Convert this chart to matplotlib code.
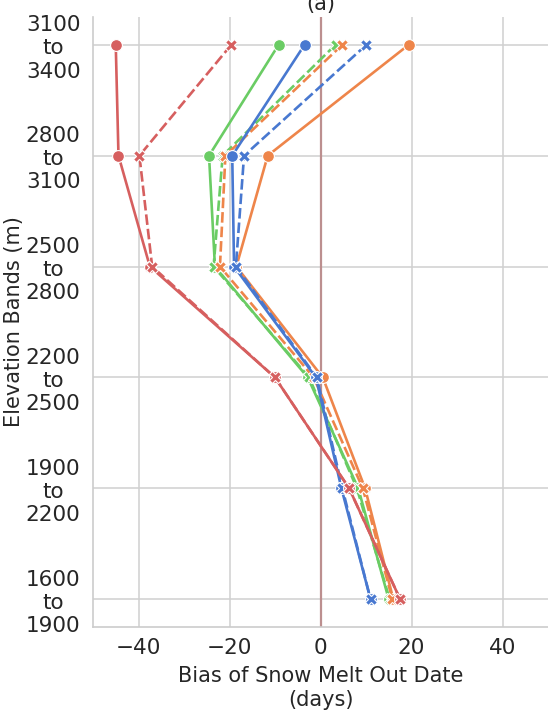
import matplotlib.pyplot as plt

bands = ["3100\nto\n3400", "2800\nto\n3100", "2500\nto\n2800",
         "2200\nto\n2500", "1900\nto\n2200", "1600\nto\n1900"]
x_ticks = [-40, -20, 0, 20, 40]

# bias (days) per band, top band first; solid = o markers, dashed = X markers
green_solid = [-9.2, -24.5, -23.2, -2.8, 8.3, 15.0]
green_dashed = [3.3, -21.5, -23.5, -2.5, 8.0, 15.2]
orange_solid = [19.4, -11.6, -18.5, 0.5, 9.8, 16.0]
orange_dashed = [4.8, -20.9, -22.1, -1.5, 9.3, 15.8]
blue_solid = [-3.5, -19.4, -19.0, -1.0, 4.6, 11.0]
blue_dashed = [10.1, -16.8, -18.6, -0.8, 4.8, 11.0]
red_solid = [-45.0, -44.4, -37.5, -10.0, 6.3, 17.5]
red_dashed = [-19.6, -39.8, -37.0, -10.0, 6.3, 17.5]

series = [
    (green_solid, "#6acc64", "-", "o"),
    (green_dashed, "#6acc64", "--", "X"),
    (orange_solid, "#ee854a", "-", "o"),
    (orange_dashed, "#ee854a", "--", "X"),
    (blue_solid, "#4878d0", "-", "o"),
    (blue_dashed, "#4878d0", "--", "X"),
    (red_solid, "#d65f5f", "-", "o"),
    (red_dashed, "#d65f5f", "--", "X"),
]

fig = plt.figure(figsize=(5.48, 7.12), dpi=100)
ax = fig.add_axes([93 / 548, 85 / 712, 455 / 548, 610 / 712])

for vals, col, ls, mk in series:
    line, = ax.plot(vals, bands, color=col, linestyle=ls, marker=mk,
                    linewidth=1.9, markersize=8.5, markeredgecolor="white",
                    markeredgewidth=0.8)
    if ls == "--":
        line.set_dashes((4, 1.5))

ax.axvline(0, color="#bc8f8f", linewidth=1.6, zorder=1)

ax.set_xlim(-50, 50)
ax.set_xticks(x_ticks)
ax.set_xticklabels(["\u2212" + str(-t) if t < 0 else str(t) for t in x_ticks])
ax.invert_yaxis()
ax.grid(True, color="#d0d0d0", linewidth=1.1, zorder=0)
ax.set_axisbelow(True)
for side in ["top", "right"]:
    ax.spines[side].set_visible(False)
for side in ["left", "bottom"]:
    ax.spines[side].set_color("#cccccc")
    ax.spines[side].set_linewidth(1.2)
ax.tick_params(axis="both", length=0, labelsize=15.5, colors="#262626")
ax.tick_params(axis="y", pad=9)
ax.tick_params(axis="x", pad=8)
for lab in ax.get_yticklabels():
    lab.set_multialignment("center")

ax.set_xlabel("Bias of Snow Melt Out Date\n(days)", fontsize=15, color="#262626",
              labelpad=6)
ax.set_ylabel("Elevation Bands (m)", fontsize=15, color="#262626", labelpad=1)
ax.set_title("(a)", fontsize=15, color="#262626", pad=5)

fig.savefig("out.png", dpi=100)
